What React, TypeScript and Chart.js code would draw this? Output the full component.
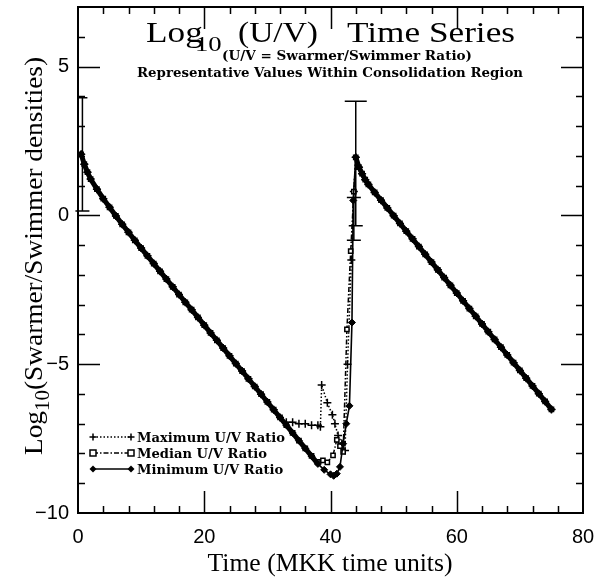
import React, { useEffect, useRef } from 'react';
import { Chart, registerables } from 'chart.js';
Chart.register(...registerables);

// ---- data ----
// shared early decline (all three ratios coincide)
const leftT = [0.5, 1, 1.5, 2, 3, 4, 5, 6, 7, 8, 9, 10, 11, 12, 13, 14, 15, 16, 17, 18, 19, 20, 21, 22, 23, 24, 25, 26, 27, 28, 29, 30, 31, 32];
const leftV = [2.05, 1.72, 1.45, 1.22, 0.88, 0.56, 0.27, -0.02, -0.3, -0.57, -0.84, -1.1, -1.36, -1.62, -1.88, -2.14, -2.4, -2.66, -2.92, -3.17, -3.43, -3.69, -3.95, -4.2, -4.46, -4.72, -4.98, -5.23, -5.49, -5.75, -6.01, -6.27, -6.53, -6.79];
// shared recovery decline after the spike
const rightT = [44, 44.5, 45, 45.5, 46, 47, 48, 49, 50, 51, 52, 53, 54, 55, 56, 57, 58, 59, 60, 61, 62, 63, 64, 65, 66, 67, 68, 69, 70, 71, 72, 73, 74, 75];
const rightV = [1.95, 1.62, 1.4, 1.2, 1.04, 0.77, 0.51, 0.25, -0.01, -0.27, -0.53, -0.79, -1.05, -1.31, -1.57, -1.83, -2.09, -2.35, -2.61, -2.87, -3.13, -3.39, -3.65, -3.91, -4.17, -4.43, -4.69, -4.95, -5.21, -5.47, -5.73, -5.99, -6.25, -6.52];
// series-specific values around the consolidation minimum / spike
const minSpikeT = [33, 34, 35, 36, 37, 38, 39, 40, 40.5, 41, 41.5, 42, 42.5, 43, 43.4, 43.6];
const minSpikeV = [-7.05, -7.31, -7.57, -7.83, -8.09, -8.35, -8.55, -8.7, -8.75, -8.68, -8.45, -7.67, -7.0, -6.4, -3.6, 0.5];
const medSpikeT = [33, 34, 35, 36, 37, 38, 38.8, 39.5, 40.4, 41.0, 41.5, 42.0, 42.6, 43.2, 43.7];
const medSpikeV = [-7.05, -7.31, -7.57, -7.83, -8.08, -8.28, -8.23, -8.3, -8.06, -7.54, -7.75, -7.95, -3.83, -1.2, 0.8];
const maxSpikeT = [33, 34, 35, 36, 37, 38, 38.4, 38.6, 39.5, 40.3, 40.7, 41.2, 41.8, 42.3, 42.7, 43.3, 43.7];
const maxSpikeV = [-6.95, -6.95, -7.0, -7.0, -7.05, -7.05, -7.1, -5.7, -6.3, -6.7, -7.0, -7.4, -7.66, -7.9, -5.0, -1.5, 0.8];
// error bars
const errT = [0.7, 44.0, 43.7];
const errLow = [0.15, -0.35, -0.84];
const errHigh = [3.95, 3.83, 0.6];
// axes
const xTicks = [0, 20, 40, 60, 80];
const yTicks = [-10, -5, 0, 5];
const seriesNames = ['Maximum U/V Ratio', 'Median U/V Ratio', 'Minimum U/V Ratio'];

const pts = (t: number[], v: number[]) => t.map((x, i) => ({ x, y: v[i] }));
const build = (st: number[], sv: number[]) => [...pts(leftT, leftV), ...pts(st, sv), ...pts(rightT, rightV)];

const fitText = (ctx: CanvasRenderingContext2D, text: string, x: number, y: number, font: string, width: number, align: CanvasTextAlign = 'left') => {
  ctx.save();
  ctx.font = font;
  const w = ctx.measureText(text).width;
  const s = width / w;
  ctx.translate(x, y);
  ctx.scale(s, 1);
  ctx.textAlign = align;
  ctx.textBaseline = 'alphabetic';
  ctx.fillStyle = '#000';
  ctx.fillText(text, 0, 0);
  ctx.restore();
};

const drawMarker = (ctx: CanvasRenderingContext2D, kind: string, x: number, y: number) => {
  ctx.save();
  ctx.strokeStyle = '#000';
  ctx.fillStyle = '#000';
  ctx.lineWidth = 1.5;
  if (kind === 'cross') {
    ctx.beginPath();
    ctx.moveTo(x - 3.5, y); ctx.lineTo(x + 3.5, y);
    ctx.moveTo(x, y - 3.5); ctx.lineTo(x, y + 3.5);
    ctx.stroke();
  } else if (kind === 'rect') {
    ctx.fillStyle = '#fff';
    ctx.fillRect(x - 3, y - 3, 6, 6);
    ctx.strokeRect(x - 3, y - 3, 6, 6);
  } else {
    ctx.beginPath();
    ctx.moveTo(x, y - 3.5); ctx.lineTo(x + 3.5, y); ctx.lineTo(x, y + 3.5); ctx.lineTo(x - 3.5, y);
    ctx.closePath();
    ctx.fill();
  }
  ctx.restore();
};

const decorPlugin = {
  id: 'decor',
  afterDraw(chart: any) {
    const ctx: CanvasRenderingContext2D = chart.ctx;
    const { left, right, top, bottom } = chart.chartArea;
    const xs = chart.scales.x;
    const ys = chart.scales.y;
    ctx.save();
    ctx.strokeStyle = '#000';
    ctx.lineCap = 'butt';
    // error bars
    ctx.lineWidth = 1.5;
    errT.forEach((t, i) => {
      const px = xs.getPixelForValue(t);
      const y1 = ys.getPixelForValue(errLow[i]);
      const y2 = ys.getPixelForValue(errHigh[i]);
      const cap = i === 1 ? 11 : i === 0 ? 5 : 7;
      ctx.beginPath();
      ctx.moveTo(px, y1); ctx.lineTo(px, y2);
      ctx.moveTo(px - 7, y1); ctx.lineTo(px + 7, y1);
      ctx.moveTo(px - cap, y2); ctx.lineTo(px + cap, y2);
      ctx.stroke();
    });
    // frame
    ctx.lineWidth = 2;
    ctx.strokeRect(left, top, right - left, bottom - top);
    // ticks (inward, all four sides)
    ctx.lineWidth = 1.5;
    ctx.beginPath();
    for (let t = 4; t < 80; t += 4) {
      const px = Math.round(xs.getPixelForValue(t)) + 0.5;
      const len = xTicks.includes(t) ? 22 : 7;
      ctx.moveTo(px, bottom); ctx.lineTo(px, bottom - len);
      ctx.moveTo(px, top); ctx.lineTo(px, top + len);
    }
    for (let v = -9; v < 7; v += 1) {
      const py = Math.round(ys.getPixelForValue(v)) + 0.5;
      const len = yTicks.includes(v) ? 22 : 7;
      ctx.moveTo(left, py); ctx.lineTo(left + len, py);
      ctx.moveTo(right, py); ctx.lineTo(right - len, py);
    }
    ctx.stroke();

    // title
    const big = '29px "Liberation Serif"';
    ctx.font = big;
    const sx = 168 / ctx.measureText('Time Series').width;
    const drawScaled = (text: string, x: number, y: number, font: string, align: CanvasTextAlign = 'left') => {
      ctx.save();
      ctx.font = font;
      ctx.translate(x, y);
      ctx.scale(sx, 1);
      ctx.textAlign = align;
      ctx.fillStyle = '#000';
      ctx.fillText(text, 0, 0);
      ctx.restore();
    };
    drawScaled('Log', 146, 42, big);
    drawScaled('10', 195, 51, '22px "Liberation Serif"');
    fitText(ctx, '(U/V)', 318, 42, big, 80, 'right');
    drawScaled('Time Series', 347, 42, big);
    fitText(ctx, '(U/V = Swarmer/Swimmer Ratio)', 222, 60, 'bold 12px "DejaVu Serif"', 250);
    fitText(ctx, 'Representative Values Within Consolidation Region', 137, 77, 'bold 12px "DejaVu Serif"', 386);

    // x title
    fitText(ctx, 'Time (MKK time units)', 330, 571, '26px "Liberation Serif"', 245, 'center');

    // y title (rotated)
    ctx.save();
    ctx.translate(42, 256);
    ctx.rotate(-Math.PI / 2);
    ctx.fillStyle = '#000';
    const mainF = '26px "Liberation Serif"';
    const subF = '20px "Liberation Serif"';
    ctx.font = mainF;
    const wLog = ctx.measureText('Log').width;
    const wRest = ctx.measureText('(Swarmer/Swimmer densities)').width;
    ctx.font = subF;
    const wSub = ctx.measureText('10').width;
    const total = wLog + wSub + wRest;
    const ys2 = 398 / total;
    ctx.scale(ys2, 1);
    let cx = -total / 2;
    ctx.font = mainF; ctx.textAlign = 'left';
    ctx.fillText('Log', cx, 0); cx += wLog;
    ctx.font = subF; ctx.fillText('10', cx, 7); cx += wSub;
    ctx.font = mainF; ctx.fillText('(Swarmer/Swimmer densities)', cx, 0);
    ctx.restore();

    // legend
    const rows = [437, 453, 469];
    const dashes = [[1.5, 2], [5, 2, 1.5, 2], []];
    const kinds = ['cross', 'rect', 'rectRot'];
    ctx.font = 'bold 12px "DejaVu Serif"';
    const lsx = 148 / ctx.measureText(seriesNames[0]).width;
    rows.forEach((ry, i) => {
      ctx.save();
      ctx.lineWidth = 1.5;
      ctx.setLineDash(dashes[i]);
      ctx.beginPath();
      ctx.moveTo(93, ry); ctx.lineTo(131, ry);
      ctx.stroke();
      ctx.restore();
      drawMarker(ctx, kinds[i], 93, ry);
      drawMarker(ctx, kinds[i], 131, ry);
      ctx.save();
      ctx.font = 'bold 12px "DejaVu Serif"';
      ctx.translate(137, ry + 4.5);
      ctx.scale(lsx, 1);
      ctx.fillStyle = '#000';
      ctx.fillText(seriesNames[i], 0, 0);
      ctx.restore();
    });
    ctx.restore();
  },
};

const thickOutside = (ctx: any) => (ctx.p0.parsed.x >= 37.5 && ctx.p1.parsed.x <= 44 ? 1.6 : 5);

export default function App() {
  const ref = useRef<HTMLCanvasElement>(null);
  useEffect(() => {
    const canvas = ref.current!;
    const chart = new Chart(canvas, {
      type: 'scatter',
      data: {
        datasets: [
          {
            label: seriesNames[2],
            data: build(minSpikeT, minSpikeV),
            showLine: true,
            borderColor: '#000',
            borderWidth: 5,
            segment: { borderWidth: thickOutside },
            pointStyle: 'rectRot',
            pointRadius: 3.5,
            pointBackgroundColor: '#000',
            pointBorderColor: '#000',
            pointBorderWidth: 1,
          },
          {
            label: seriesNames[1],
            data: build(medSpikeT, medSpikeV),
            showLine: true,
            borderColor: '#000',
            borderWidth: 1.5,
            borderDash: [5, 2, 1.5, 2],
            pointStyle: 'rect',
            pointRadius: 3,
            pointBackgroundColor: '#fff',
            pointBorderColor: '#000',
            pointBorderWidth: 1.5,
          },
          {
            label: seriesNames[0],
            data: build(maxSpikeT, maxSpikeV),
            showLine: true,
            borderColor: '#000',
            borderWidth: 1.5,
            borderDash: [1.5, 2],
            pointStyle: 'cross',
            pointRadius: 4,
            pointBorderColor: '#000',
            pointBorderWidth: 1.5,
          },
        ],
      },
      options: {
        responsive: false,
        devicePixelRatio: 1,
        animation: false,
        layout: { padding: { left: 0, right: 28, top: 7, bottom: 0 } },
        plugins: { legend: { display: false }, tooltip: { enabled: false } },
        scales: {
          x: {
            type: 'linear',
            min: 0,
            max: 80,
            grid: { display: false, drawTicks: false },
            border: { display: false },
            afterBuildTicks: (s: any) => { s.ticks = xTicks.map((v) => ({ value: v })); },
            afterFit: (s: any) => { s.height = 67; s.paddingLeft = 0; s.paddingRight = 0; },
            ticks: {
              padding: 12,
              color: '#000',
              font: { family: '"Liberation Sans"', size: 20 },
              maxRotation: 0,
              callback: (v: any) => String(v),
            },
          },
          y: {
            type: 'linear',
            min: -10,
            max: 7,
            grid: { display: false, drawTicks: false },
            border: { display: false },
            afterBuildTicks: (s: any) => { s.ticks = yTicks.map((v) => ({ value: v })); },
            afterFit: (s: any) => { s.width = 78; s.paddingTop = 0; s.paddingBottom = 0; },
            ticks: {
              padding: 9,
              color: '#000',
              font: { family: '"Liberation Sans"', size: 20 },
              callback: (v: any) => (v < 0 ? '\u2212' + Math.abs(v) : String(v)),
            },
          },
        },
      },
      plugins: [decorPlugin],
    });
    return () => chart.destroy();
  }, []);
  return (
    <div style={{ position: 'fixed', left: 0, top: 0, width: 611, height: 580, background: '#fff' }}>
      <canvas ref={ref} width={611} height={580} style={{ display: 'block' }} />
    </div>
  );
}
